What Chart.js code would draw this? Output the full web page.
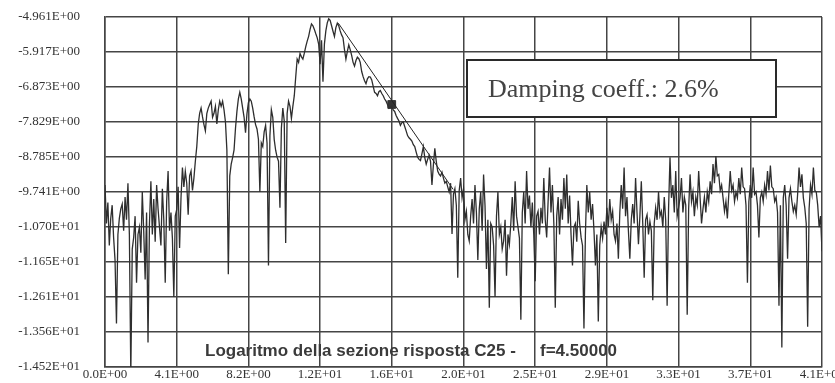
<!DOCTYPE html>
<html>
<head>
<meta charset="utf-8">
<script src="https://cdn.jsdelivr.net/npm/chart.js@4.4.1/dist/chart.umd.min.js"></script>
<style>
  html, body { margin: 0; padding: 0; background: #fff; }
  #wrap { position: relative; width: 835px; height: 383px; }
</style>
</head>
<body>
<div id="wrap"><canvas id="grafico"></canvas></div>
<script>
// sample spacing of the response curve (x runs 0 .. 40.96)
const xStep = 0.08192;

// log of the response section
const logValues = [
  -9.55, -10.6, -10.03, -11.2, -10.46, -10.1, -10.98, -11.6, -13.33, -10.9,
  -10.46, -10.2, -10.07, -10.8, -9.88, -10.5, -9.50, -10.9, -14.70, -11.3,
  -10.98, -10.4, -12.22, -10.9, -10.70, -11.4, -9.74, -10.8, -12.13, -10.3,
  -13.85, -10.6, -9.45, -10.9, -9.93, -11.1, -9.55, -10.2, -10.70, -11.2,
  -9.65, -10.5, -12.22, -10.0, -9.17, -10.8, -10.30, -11.0, -12.61, -10.4,

  -10.22, -9.6, -11.27, -9.9, -9.07, -9.6, -9.17, -9.5, -10.36, -9.3,
  -9.17, -9.7, -9.36, -8.9, -8.50, -7.9, -7.59, -7.45, -7.69, -7.9,
  -8.07, -7.6, -7.45, -7.35, -7.26, -7.7, -7.59, -7.4, -7.88, -7.5,
  -7.26, -7.4, -7.26, -7.5, -7.83, -8.6, -11.99, -9.3, -8.98, -8.8,
  -8.59, -8.0, -7.54, -7.2, -7.02, -7.2, -7.45, -7.7, -8.12, -7.6,

  -7.30, -7.2, -7.26, -7.45, -7.69, -7.9, -8.02, -8.3, -9.74, -8.4,
  -8.50, -8.1, -7.92, -8.4, -11.75, -8.2, -7.49, -7.7, -8.31, -8.6,
  -8.79, -8.9, -10.17, -8.0, -7.45, -7.8, -11.13, -7.6, -7.26, -7.4,
  -7.73, -7.4, -7.11, -6.6, -6.11, -6.2, -5.96, -6.05, -6.11, -5.95,
  -5.77, -5.62, -5.49, -5.3, -5.15, -5.2, -5.30, -5.42, -5.53, -5.7,

  -6.25, -5.6, -6.73, -5.7, -5.34, -5.12, -5.01, -5.05, -5.20, -5.35,
  -5.49, -5.25, -5.13, -5.2, -5.34, -5.45, -5.53, -5.85, -6.11, -5.9,
  -5.72, -5.85, -6.01, -6.2, -6.30, -6.15, -6.06, -6.1, -6.20, -6.45,
  -6.59, -6.7, -6.78, -6.65, -6.59, -6.6, -6.68, -6.85, -7.02, -7.05,
  -7.11, -7.0, -6.97, -7.05, -7.11, -7.2, -7.26, -7.35, -7.45, -7.42,

  -7.40, -7.5, -7.54, -7.65, -7.73, -7.8, -7.92, -7.85, -7.83, -7.95,
  -8.07, -8.2, -8.26, -8.3, -8.35, -8.45, -8.50, -8.65, -8.79, -8.85,
  -8.88, -8.7, -8.50, -8.8, -8.98, -8.85, -8.74, -8.9, -9.55, -9.0,
  -8.55, -8.9, -9.17, -9.25, -9.30, -9.2, -9.36, -9.5, -9.45, -9.6,
  -9.74, -9.5, -10.89, -9.8, -9.65, -10.1, -12.08, -9.7, -9.36, -9.9,

  -9.65, -10.5, -10.27, -10.9, -11.08, -10.4, -9.93, -10.6, -9.55, -10.3,
  -11.60, -10.2, -9.74, -10.8, -9.26, -10.1, -11.84, -10.5, -12.90, -10.6,
  -10.70, -11.2, -12.61, -10.4, -9.74, -10.9, -10.70, -11.3, -11.08, -10.5,
  -12.03, -10.9, -11.17, -10.6, -9.88, -10.8, -9.45, -10.4, -10.70, -11.0,
  -13.23, -10.3, -9.74, -10.6, -9.17, -10.2, -9.84, -10.7, -10.03, -10.9,

  -12.18, -10.4, -10.27, -10.9, -10.17, -10.6, -9.36, -10.5, -10.98, -10.0,
  -9.07, -10.3, -9.55, -10.6, -12.90, -10.4, -9.88, -10.9, -9.93, -10.5,
  -9.36, -10.2, -9.26, -10.6, -9.84, -10.9, -11.75, -10.7, -10.60, -11.1,
  -9.98, -10.6, -10.98, -11.2, -13.47, -10.9, -9.55, -10.3, -9.74, -10.5,
  -10.07, -10.8, -11.75, -10.9, -13.28, -11.2, -10.70, -11.0, -10.55, -10.9,

  -10.17, -10.7, -9.93, -10.5, -10.27, -10.9, -11.08, -10.6, -11.56, -10.3,
  -9.55, -10.2, -9.07, -10.4, -9.88, -10.8, -11.56, -10.5, -10.07, -10.6,
  -9.36, -10.3, -11.17, -10.4, -9.45, -10.6, -12.08, -10.5, -10.36, -10.9,
  -10.55, -10.8, -12.70, -10.6, -10.17, -10.5, -9.74, -10.4, -10.27, -10.7,
  -9.88, -10.5, -12.85, -10.2, -8.79, -9.9, -9.55, -10.3, -9.17, -10.4,

  -10.17, -9.9, -9.36, -10.3, -9.88, -10.1, -13.09, -10.2, -9.26, -10.0,
  -9.74, -10.4, -9.88, -10.1, -9.17, -9.9, -10.60, -10.2, -9.88, -10.3,
  -9.74, -10.0, -9.45, -9.8, -8.98, -9.5, -8.76, -9.3, -9.26, -9.7,
  -9.55, -9.9, -10.27, -10.0, -10.46, -9.8, -9.17, -9.7, -9.55, -10.0,
  -9.74, -9.9, -9.36, -9.8, -9.07, -9.6, -9.65, -10.1, -12.22, -10.0,

  -9.55, -9.9, -9.07, -9.8, -9.74, -10.1, -10.98, -9.9, -9.74, -10.0,
  -9.55, -9.8, -9.17, -9.7, -9.02, -9.6, -9.65, -10.0, -9.88, -10.3,
  -12.85, -10.1, -13.99, -9.9, -9.55, -10.1, -11.56, -9.9, -9.65, -10.0,
  -10.27, -10.1, -10.36, -9.8, -9.07, -9.6, -9.26, -9.9, -10.17, -10.6,
  -13.42, -10.2, -9.55, -9.8, -9.07, -9.7, -9.74, -10.1, -10.70, -10.4,
  -11.36
];

// straight decay fit and the marked point on it
const fitX = [13.33, 19.89];
const fitY = [-5.13, -9.67];
const markX = [16.38];
const markY = [-7.35];

const xTickValues = [0, 4.096, 8.192, 12.288, 16.384, 20.48, 24.576, 28.672, 32.768, 36.864, 40.96];
const xTickLabels = ['0.0E+00', '4.1E+00', '8.2E+00', '1.2E+01', '1.6E+01', '2.0E+01',
                     '2.5E+01', '2.9E+01', '3.3E+01', '3.7E+01', '4.1E+01'];
const yTickValues = [-4.961, -5.917, -6.873, -7.829, -8.785, -9.741, -10.697, -11.653, -12.609, -13.565, -14.52];
const yTickLabels = ['-4.961E+00', '-5.917E+00', '-6.873E+00', '-7.829E+00', '-8.785E+00', '-9.741E+00',
                     '-1.070E+01', '-1.165E+01', '-1.261E+01', '-1.356E+01', '-1.452E+01'];

const titleText = 'Logaritmo della sezione risposta C25 -';
const freqText = 'f=4.50000';
const dampingText = 'Damping coeff.: 2.6%';

const gridColor = '#454545';
const inkColor = '#333';

const curve = logValues.map((v, i) => ({ x: i * xStep, y: v }));
const fitLine = fitX.map((x, i) => ({ x: x, y: fitY[i] }));
const marks = markX.map((x, i) => ({ x: x, y: markY[i] }));

const annotations = {
    id: 'annotations',
    afterDraw(chart) {
        const c = chart.ctx;
        c.save();
        // damping box
        c.fillStyle = '#fff';
        c.fillRect(467, 60, 309, 57);
        c.strokeStyle = '#2a2a2a';
        c.lineWidth = 2;
        c.strokeRect(467, 60, 309, 57);
        c.fillStyle = '#444';
        c.font = '26px "Liberation Serif", "Times New Roman", serif';
        c.textBaseline = 'alphabetic';
        c.textAlign = 'left';
        c.fillText(dampingText, 488, 97);
        // caption inside the plot
        c.fillStyle = '#3a3a3a';
        c.font = 'bold 17px "Liberation Sans", Arial, sans-serif';
        c.textBaseline = 'middle';
        c.fillText(titleText, 205, 351);
        c.fillText(freqText, 540, 351);
        c.restore();
    }
};

const ctx = document.getElementById('grafico').getContext('2d');

new Chart(ctx, {
    type: 'line',
    data: {
        datasets: [
            {
                label: 'curve',
                data: curve,
                borderColor: '#2e2e2e',
                borderWidth: 1.3,
                pointRadius: 0,
                tension: 0
            },
            {
                label: 'fit',
                data: fitLine,
                borderColor: '#222',
                borderWidth: 1,
                pointRadius: 0,
                tension: 0
            },
            {
                label: 'mark',
                data: marks,
                showLine: false,
                pointStyle: 'rect',
                pointRadius: 5.5,
                pointBackgroundColor: '#333',
                pointBorderColor: '#333'
            }
        ]
    },
    options: {
        responsive: true,
        maintainAspectRatio: false,
        animation: false,
        events: [],
        layout: {
            padding: { left: 0, right: 13, top: 17, bottom: 0 }
        },
        plugins: {
            legend: { display: false },
            tooltip: { enabled: false }
        },
        scales: {
            x: {
                type: 'linear',
                min: 0,
                max: 40.96,
                afterBuildTicks: s => { s.ticks = xTickValues.map(v => ({ value: v })); },
                afterFit: s => {
                    s.height = 16;
                    s.paddingLeft = 0; s.paddingRight = 0;
                    s.paddingTop = 0; s.paddingBottom = 0;
                },
                ticks: {
                    callback: v => xTickLabels[xTickValues.indexOf(v)],
                    autoSkip: false,
                    maxRotation: 0,
                    padding: 0,
                    color: inkColor,
                    font: { family: '"Liberation Serif", serif', size: 13 }
                },
                grid: { color: gridColor, lineWidth: 1.5, drawTicks: false },
                border: { color: gridColor, width: 1.5 }
            },
            y: {
                min: -14.52,
                max: -4.961,
                afterBuildTicks: s => { s.ticks = yTickValues.map(v => ({ value: v })); },
                afterFit: s => {
                    s.width = 105;
                    s.paddingLeft = 0; s.paddingRight = 0;
                    s.paddingTop = 0; s.paddingBottom = 0;
                },
                ticks: {
                    callback: v => yTickLabels[yTickValues.indexOf(v)],
                    autoSkip: false,
                    padding: 25,
                    color: inkColor,
                    font: { family: '"Liberation Serif", serif', size: 13 }
                },
                grid: { color: gridColor, lineWidth: 1.5, drawTicks: false },
                border: { color: gridColor, width: 1.5 }
            }
        }
    },
    plugins: [annotations]
});
</script>
</body>
</html>
